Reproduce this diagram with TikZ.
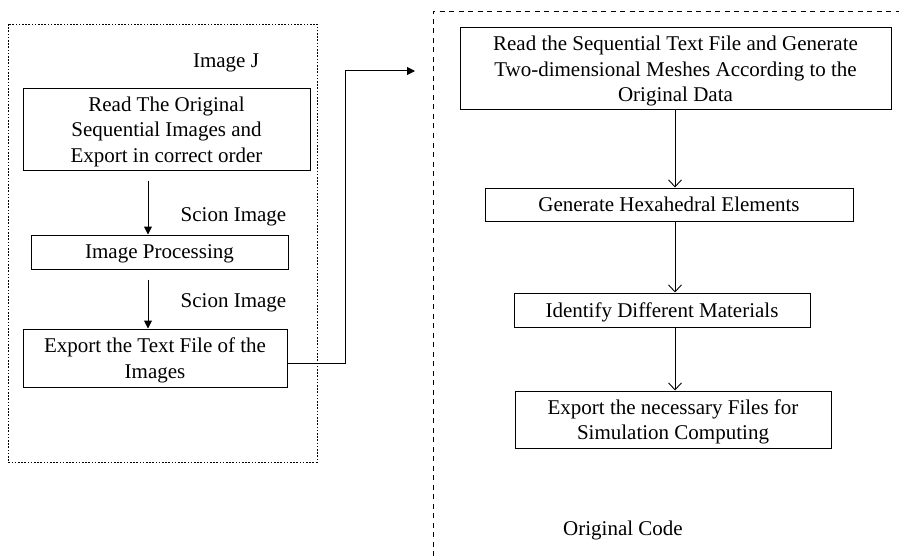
\documentclass[tikz,border=0pt]{standalone}
\usepackage{fontspec}
\setmainfont{Liberation Serif}
\usetikzlibrary{arrows.meta,calc}
\begin{document}
\begin{tikzpicture}[x=1pt,y=-1pt,
  every node/.style={font=\fontsize{21}{25.5}\selectfont},
  stepbox/.style={draw, line width=1pt, inner sep=0pt, align=center, text depth=0pt,
    execute at begin node={\vspace*{5pt}}},
  lbl/.style={inner sep=0pt},
  solidarrow/.style={line width=1pt, -{Triangle[length=8pt,width=8pt]}},
  openarrow/.style={line width=1pt, -{Straight Barb[length=7pt,width=13pt,line width=0.9pt]}},
  dotframe/.style={line width=0.9pt, dash pattern=on 1.6pt off 1.6pt},
  dashframe/.style={line width=0.9pt, dash pattern=on 5pt off 4.5pt}]
  \useasboundingbox (0,0) rectangle (899,559);

  % ImageJ / Scion Image stage
  \draw[dotframe] (8,24) rectangle (317,462);
  \node[lbl] (imgj) at (226,63) {Image J};
  \node[stepbox, minimum width=287pt, minimum height=81pt] (b1) at (166.5,129.5)
    {Read The Original\\Sequential Images and\\Export in correct order};
  \node[lbl] (sc1) at (233.5,217) {Scion Image};
  \node[stepbox, minimum width=257pt, minimum height=34pt] (b2) at (159.5,252)
    {Image Processing};
  \node[lbl] (sc2) at (233.5,303) {Scion Image};
  \node[stepbox, minimum width=264pt, minimum height=58pt] (b3) at (155,358)
    {Export the Text File of the\\Images};

  \coordinate (ax) at (148,0);
  \draw[solidarrow, shorten <=10pt] (b1.south -| ax) -- (b2.north -| ax);
  \draw[solidarrow, shorten <=10pt] (b2.south -| ax) -- (b3.north -| ax);

  % link to the mesh generation stage
  \coordinate (c1) at (345,363);
  \coordinate (c2) at (345,71);
  \coordinate (tip) at (415,71);
  \draw[solidarrow] ([yshift=-5pt]b3.east) -- (c1) -- (c2) -- (tip);

  % Original Code stage (frame runs off the page)
  \begin{scope}
    \clip (0,0) rectangle (899,559);
    \draw[dashframe] (433.5,575) -- (433.5,11) -- (915,11);
  \end{scope}
  \node[stepbox, minimum width=431pt, minimum height=82pt] (r1) at (675.5,69)
    {Read the Sequential Text File and Generate\\Two-dimensional Meshes According to the\\Original Data};
  \node[stepbox, minimum width=368pt, minimum height=33pt] (r2) at (669,204.5)
    {Generate Hexahedral Elements};
  \node[stepbox, minimum width=296pt, minimum height=34pt] (r3) at (662,310)
    {Identify Different Materials};
  \node[stepbox, minimum width=316pt, minimum height=57pt] (r4) at (673,419.5)
    {Export the necessary Files for\\Simulation Computing};
  \node[lbl] (oc) at (623,530) {Original Code};

  \coordinate (rx) at (675,0);
  \draw[openarrow] (r1.south -| rx) -- (r2.north -| rx);
  \draw[openarrow] (r2.south -| rx) -- (r3.north -| rx);
  \draw[openarrow] (r3.south -| rx) -- (r4.north -| rx);
\end{tikzpicture}
\end{document}
